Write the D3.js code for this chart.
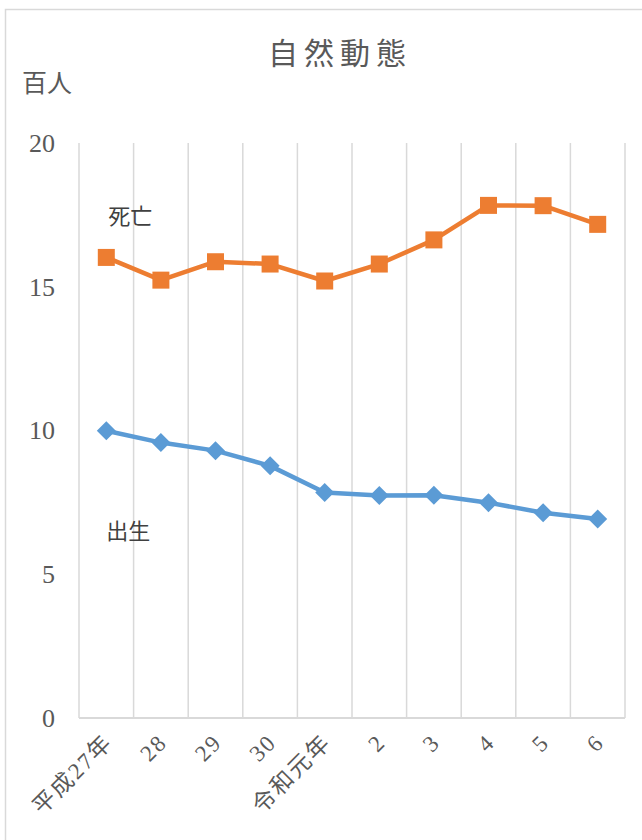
<!DOCTYPE html>
<html><head><meta charset="utf-8">
<script src="https://cdn.jsdelivr.net/npm/d3@7/dist/d3.min.js"></script>
<style>
html,body{margin:0;padding:0;background:#fff;}
svg{display:block;}
</style></head>
<body>
<svg id="chart" width="642" height="840"></svg>
<script>
const title = "自然動態";
const unitLabel = "百人";
const categories = ["平成27年","28","29","30","令和元年","2","3","4","5","6"];
const deaths = [16.02, 15.23, 15.87, 15.79, 15.2, 15.79, 16.63, 17.83, 17.82, 17.17];
const births = [9.99, 9.58, 9.3, 8.77, 7.84, 7.74, 7.75, 7.49, 7.14, 6.92];
const yTicks = [0, 5, 10, 15, 20];
const seriesNames = ["死亡", "出生"];

const svg = d3.select("#chart");
const W = 642, H = 840;
const m = {left: 79, right: 17, top: 143, bottom: 122};

// chart border
svg.append("rect").attr("x", 5.5).attr("y", 9.5).attr("width", 660).attr("height", 860)
  .attr("fill", "none").attr("stroke", "#d9d9d9").attr("stroke-width", 1.5);

const x = d3.scaleBand().domain(categories).range([m.left, W - m.right]);
const y = d3.scaleLinear().domain([0, 20]).range([H - m.bottom, m.top]);

// vertical gridlines at band edges
const edges = categories.map(c => x(c)).concat([x(categories[categories.length-1]) + x.bandwidth()]);
svg.append("g").selectAll("line").data(edges).join("line")
  .attr("x1", d => d).attr("x2", d => d)
  .attr("y1", y(20)).attr("y2", y(0))
  .attr("stroke", "#d9d9d9").attr("stroke-width", 1.5);

// x axis line
svg.append("line").attr("x1", x.range()[0]).attr("x2", x.range()[1])
  .attr("y1", y(0)).attr("y2", y(0)).attr("stroke", "#d9d9d9").attr("stroke-width", 2);

// y tick labels
const yAxis = d3.axisLeft(y).tickValues(yTicks).tickSize(0).tickPadding(24);
const ya = svg.append("g").attr("transform", `translate(${m.left},0)`).call(yAxis);
ya.select(".domain").remove();
ya.selectAll("text").attr("font-family", "'Liberation Serif', serif").attr("font-size", 26)
  .attr("fill", "#595959");

// x tick labels
const xAxis = d3.axisBottom(x).tickSize(0).tickPadding(0);
const xa = svg.append("g").attr("transform", `translate(0,${y(0)})`).call(xAxis);
xa.select(".domain").remove();
xa.selectAll("text")
  .attr("font-family", "'Liberation Serif', 'Noto Sans CJK JP', serif")
  .attr("font-size", 23).attr("fill", "#595959").attr("letter-spacing", 2)
  .attr("text-anchor", "end").attr("dy", null).attr("y", 0)
  .attr("transform", "translate(4,22) rotate(-45)")
  .attr("dominant-baseline", "middle");

// title
svg.append("text").attr("x", 340).attr("y", 64).attr("text-anchor", "middle")
  .attr("font-family", "'Noto Sans CJK JP', sans-serif").attr("font-size", 30)
  .attr("letter-spacing", 6).attr("fill", "#595959").text(title);

// unit label
svg.append("text").attr("x", 22).attr("y", 92)
  .attr("font-family", "'Noto Sans CJK JP', serif").attr("font-size", 25)
  .attr("fill", "#595959").text(unitLabel);

const cx = (d, i) => x(categories[i]) + x.bandwidth() / 2;
const line = d3.line().x((d, i) => cx(d, i)).y(d => y(d));

// deaths
svg.append("path").datum(deaths).attr("d", line).attr("fill", "none")
  .attr("stroke", "#ED7D31").attr("stroke-width", 4.5).attr("stroke-linejoin", "round");
svg.append("g").selectAll("rect").data(deaths).join("rect")
  .attr("x", (d, i) => cx(d, i) - 8.5).attr("y", d => y(d) - 8.5)
  .attr("width", 17).attr("height", 17).attr("fill", "#ED7D31");

// births
svg.append("path").datum(births).attr("d", line).attr("fill", "none")
  .attr("stroke", "#5B9BD5").attr("stroke-width", 4.5).attr("stroke-linejoin", "round");
svg.append("g").selectAll("path.m").data(births).join("path").attr("class", "m")
  .attr("d", (d, i) => { const px = cx(d, i), py = y(d), r = 9.5;
    return `M${px},${py - r}L${px + r},${py}L${px},${py + r}L${px - r},${py}Z`; })
  .attr("fill", "#5B9BD5");

// series labels
svg.append("text").attr("x", cx(0, 0) + 2).attr("y", y(deaths[0]) - 33)
  .attr("font-family", "'Noto Sans CJK JP', sans-serif").attr("font-size", 22)
  .attr("fill", "#404040").text(seriesNames[0]);
svg.append("text").attr("x", cx(0, 0)).attr("y", y(births[0]) + 108)
  .attr("font-family", "'Noto Sans CJK JP', sans-serif").attr("font-size", 22)
  .attr("fill", "#404040").text(seriesNames[1]);
</script>
</body></html>
